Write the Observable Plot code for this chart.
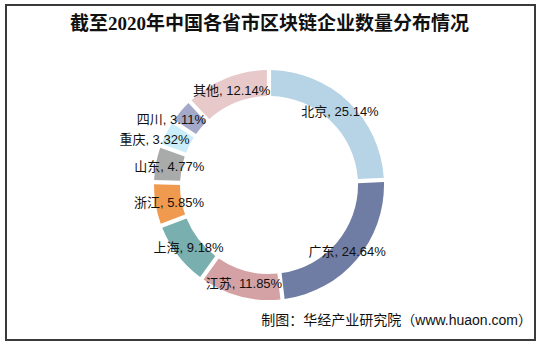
<!DOCTYPE html>
<html>
<head>
<meta charset="utf-8">
<script src="https://cdn.jsdelivr.net/npm/d3@7"></script>
<script src="https://cdn.jsdelivr.net/npm/@observablehq/plot@0.6"></script>
<style>
  html, body { margin: 0; padding: 0; background: #fff; }
  #wrap { position: relative; width: 539px; height: 346px; overflow: hidden; background: #fff; }
  #frame { position: absolute; left: 5px; top: 4px; width: 527px; height: 333px; border: 2px solid #3a3a3a; }
  #title { position: absolute; left: 0; top: 11px; width: 539px; text-align: center;
    font-family: "Liberation Serif", "Noto Sans CJK SC", serif; font-weight: bold; font-size: 19px; color: #111; line-height: 26px; }
  #chart { position: absolute; left: 0; top: 44px; }
  #caption { position: absolute; right: 7px; top: 311px;
    font-family: "Liberation Sans", "Noto Sans CJK SC", sans-serif; font-size: 14px; color: #111; line-height: 18px; white-space: nowrap; }
</style>
</head>
<body>
<div id="wrap">
  <div id="frame"></div>
  <div id="title">截至2020年中国各省市区块链企业数量分布情况</div>
  <div id="chart"></div>
  <div id="caption">制图：华经产业研究院（www.huaon.com）</div>
</div>
<script>
// Data (clockwise from 12 o'clock)
const regions = ["北京", "广东", "江苏", "上海", "浙江", "山东", "重庆", "四川", "其他"];
const shares  = [25.14, 24.64, 11.85, 9.18, 5.85, 4.77, 3.32, 3.11, 12.14];
const colors  = ["#b7d3e6", "#6f7ca3", "#d4a2a5", "#79afaf", "#f09a50", "#a9abab", "#c9edf9", "#a4a9c9", "#e8c9c9"];

const rows = regions.map((r, i) => ({region: r, share: shares[i], color: colors[i]}));

const W = 539, H = 270;
const R_OUT = 115, R_IN = 89, R_LABEL = 102;

const pie = d3.pie().sort(null).value(d => d.share).startAngle(0).endAngle(2 * Math.PI).padAngle(0.042);
const slices = pie(rows);
slices.forEach(s => {
  const mid = (s.startAngle + s.endAngle) / 2;
  s.data.lx = R_LABEL * Math.sin(mid);
  s.data.ly = R_LABEL * Math.cos(mid);
  s.data.label = `${s.data.region}, ${s.data.share.toFixed(2)}%`;
});

function donut(index, scales, values, dimensions) {
  const cx = scales.x(0), cy = scales.y(0);
  const k = Math.abs(scales.x(1) - scales.x(0));
  const arc = d3.arc().innerRadius(R_IN * k).outerRadius(R_OUT * k).padRadius(100 * k);
  const g = d3.create("svg:g").attr("transform", `translate(${cx},${cy})`);
  g.selectAll("path").data(slices).join("path")
    .attr("d", arc)
    .attr("fill", d => d.data.color);
  return g.node();
}

const labelStyle = {
  x: "lx", y: "ly", text: "label",
  fontSize: 13, fill: "#111",
  fontFamily: "'Liberation Sans', 'Noto Sans CJK SC', sans-serif"
};

const main = rows.filter(d => d.region !== "四川" && d.region !== "重庆");
const sichuan = rows.filter(d => d.region === "四川");
const chongqing = rows.filter(d => d.region === "重庆");

const chart = Plot.plot({
  width: W, height: H,
  margin: 0,
  x: {domain: [-269, 270], axis: null},
  y: {domain: [-129, 141], axis: null},
  marks: [
    donut,
    Plot.text(main, labelStyle),
    Plot.text(sichuan, {...labelStyle, dx: -20}),
    Plot.text(chongqing, {...labelStyle, dx: -24})
  ]
});
document.getElementById("chart").appendChild(chart);
</script>
</body>
</html>
